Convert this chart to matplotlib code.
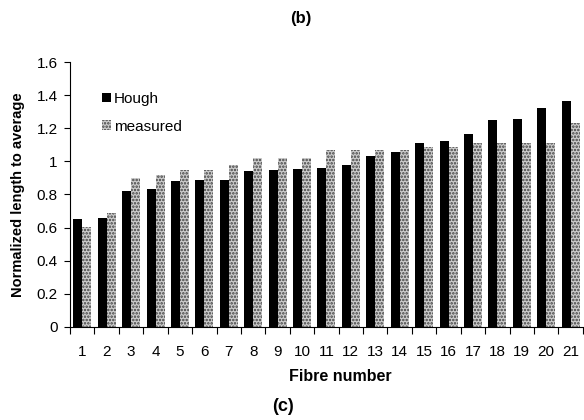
import numpy as np
import matplotlib
matplotlib.use("Agg")
import matplotlib.pyplot as plt

plt.rcParams['font.family'] = ['Liberation Sans', 'DejaVu Sans']
plt.rcParams['hatch.linewidth'] = 1.2

# datos
fibras = [str(i) for i in range(1, 22)]
hough = [0.65, 0.655, 0.82, 0.83, 0.88, 0.885, 0.89, 0.94, 0.945, 0.955, 0.962,
         0.978, 1.032, 1.057, 1.11, 1.122, 1.165, 1.253, 1.257, 1.32, 1.365]
medido = [0.605, 0.69, 0.90, 0.92, 0.945, 0.945, 0.98, 1.02, 1.02, 1.02, 1.067,
          1.067, 1.067, 1.067, 1.087, 1.087, 1.11, 1.11, 1.11, 1.11, 1.235]
yticks = [0, 0.2, 0.4, 0.6, 0.8, 1, 1.2, 1.4, 1.6]
yticklabels = ['0', '0.2', '0.4', '0.6', '0.8', '1', '1.2', '1.4', '1.6']

fig = plt.figure(figsize=(5.84, 4.2), dpi=100)
ax = fig.add_axes([0.12, 0.222, 0.878, 0.630])

x = np.arange(len(fibras))
w = 0.37
ax.bar(x - w / 2, hough, w, color='black', label='Hough')
ax.bar(x + w / 2, medido, w, color='#cccccc', edgecolor='#404040', hatch='.....',
       linewidth=0, label='measured')

ax.set_xlim(-0.5, len(fibras) - 0.5)
ax.set_ylim(0, 1.6)
ax.set_yticks(yticks)
ax.set_yticklabels(yticklabels, fontsize=11)
ax.set_xticks(x)
ax.set_xticklabels(fibras, fontsize=11)
ax.tick_params(axis='x', length=0, pad=13)
ax.set_xticks(np.arange(-0.5, len(fibras)), minor=True)
ax.tick_params(axis='x', which='minor', length=5, width=0.8)
ax.tick_params(axis='y', length=4, width=0.8, pad=5)
ax.spines['top'].set_visible(False)
ax.spines['right'].set_visible(False)

ax.set_xlabel('Fibre number', fontsize=11.5, fontweight='bold')
ax.xaxis.set_label_coords(0.527, -0.158)
ax.set_ylabel('Normalized length to average', fontsize=10.5, fontweight='bold', labelpad=8)

ax.legend(loc='upper left', bbox_to_anchor=(0.035, 0.94), frameon=False, fontsize=11,
          handlelength=0.6, handleheight=0.6, handletextpad=0.2, labelspacing=0.9)

fig.text(0.515, 0.955, '(b)', ha='center', va='center', fontsize=12, fontweight='bold')
fig.text(0.485, 0.032, '(c)', ha='center', va='center', fontsize=13, fontweight='bold')

plt.savefig('out.png', dpi=100)
